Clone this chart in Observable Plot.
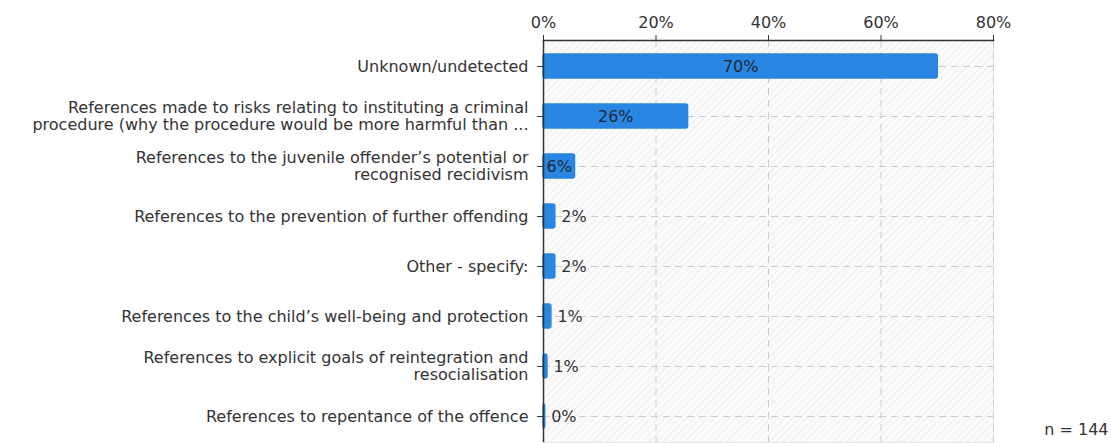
<!DOCTYPE html>
<html>
<head>
<meta charset="utf-8">
<script src="https://cdn.jsdelivr.net/npm/d3@7"></script>
<script src="https://cdn.jsdelivr.net/npm/@observablehq/plot@0.6"></script>
<style>
  html, body { margin: 0; padding: 0; background: #fff; }
  #chart svg { display: block; }
</style>
</head>
<body>
<div id="chart"></div>
<script>
const categories = [
  "Unknown/undetected",
  "References made to risks relating to instituting a criminal\nprocedure (why the procedure would be more harmful than ...",
  "References to the juvenile offender’s potential or\nrecognised recidivism",
  "References to the prevention of further offending",
  "Other - specify:",
  "References to the child’s well-being and protection",
  "References to explicit goals of reintegration and\nresocialisation",
  "References to repentance of the offence"
];
const values = [70.1, 25.7, 5.6, 2.1, 2.1, 1.4, 0.7, 0.3];
const xTicks = [0, 20, 40, 60, 80];
const note = "n = 144";

const data = categories.map((c, i) => ({category: c, value: values[i], label: Math.round(values[i]) + "%"}));
const inside = data.filter(d => d.value >= 5);
const outside = data.filter(d => d.value < 5);

const barColor = "#2986e2";
const textColor = "#333333";

const svg = Plot.plot({
  width: 1111,
  height: 443,
  marginLeft: 543,
  marginRight: 118,
  marginTop: 40,
  marginBottom: 1,
  style: {fontFamily: "DejaVu Sans, Verdana, sans-serif", fontSize: "16px", color: textColor, background: "transparent"},
  x: {domain: [0, 80], ticks: xTicks, tickFormat: d => d + "%", axis: null},
  y: {domain: categories, paddingInner: 0.52, paddingOuter: 0.25, axis: null},
  marks: [
    Plot.frame({fill: "url(#hatch)", stroke: "#e4e4e4"}),
    Plot.gridX(xTicks.slice(1), {stroke: "#cccccc", strokeOpacity: 1, strokeDasharray: "7,5"}),
    Plot.gridY({stroke: "#cccccc", strokeOpacity: 1, strokeDasharray: "7,5"}),
    Plot.barX(data, {y: "category", x: "value", fill: barColor, stroke: barColor, strokeWidth: 1.5, rx: 2}),
    Plot.text(inside, {y: "category", x: d => d.value / 2, text: "label", fill: "#1c2836", fontSize: 16}),
    Plot.text(outside, {y: "category", x: "value", text: "label", textAnchor: "start", dx: 6, fill: textColor, fontSize: 16}),
    Plot.axisX({anchor: "top", ticks: xTicks, tickFormat: d => d + "%", tickSize: 6, tickPadding: 7, stroke: "#333", fontSize: 16, label: null}),
    Plot.frame({anchor: "top", stroke: "#333", strokeWidth: 1.5}),
    Plot.axisY({anchor: "left", tickSize: 6, tickPadding: 9, stroke: "#333", fontSize: 16, lineHeight: 1.05, label: null, textOverflow: null}),
    Plot.ruleX([0], {stroke: "#333", strokeWidth: 1.5}),
    Plot.text([note], {frameAnchor: "bottom-right", textAnchor: "end", dx: 115, dy: -8, fill: textColor, fontSize: 16})
  ]
});

// hatched background pattern
const ns = "http://www.w3.org/2000/svg";
const defs = document.createElementNS(ns, "defs");
defs.innerHTML = `<pattern id="hatch" patternUnits="userSpaceOnUse" width="5" height="5" patternTransform="rotate(45)">
  <rect width="5" height="5" fill="#fbfbfb"></rect>
  <line x1="0" y1="0" x2="0" y2="5" stroke="#e6e6e6" stroke-width="1.2"></line>
</pattern>`;
svg.insertBefore(defs, svg.firstChild);

document.getElementById("chart").appendChild(svg);
</script>
</body>
</html>
